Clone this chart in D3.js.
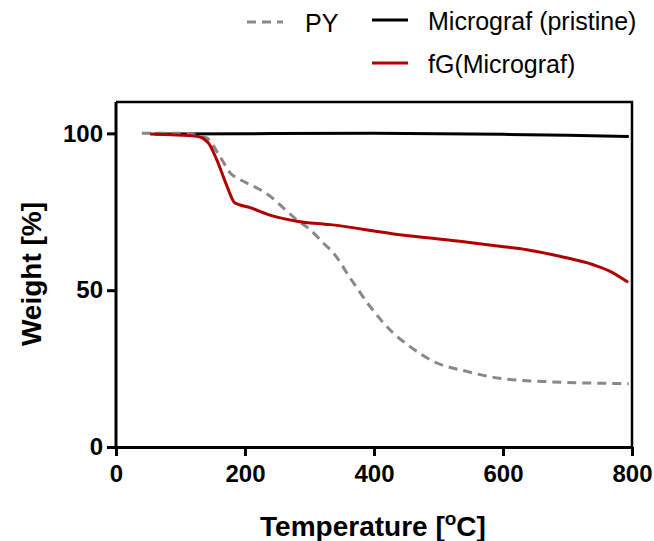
<!DOCTYPE html>
<html>
<head>
<meta charset="utf-8">
<script src="https://cdn.jsdelivr.net/npm/d3@7"></script>
<style>
  body { margin: 0; background: #fff; }
  svg text { font-family: "Liberation Sans", Arial, sans-serif; }
</style>
</head>
<body>
<div id="chart"></div>
<script>
// ===== DATA =====
const pyTemp    = [40, 100, 140, 160, 177, 192, 213, 239, 259, 280, 301, 321, 337, 363, 394, 430, 456, 492, 544, 595, 662, 795];
const pyWeight  = [100, 100, 98.6, 93, 87.4, 85.3, 83.2, 80, 76.3, 72.5, 69.3, 65.1, 61.9, 53.9, 44.8, 36.3, 32.0, 27.3, 24.1, 21.9, 20.9, 20.2];

const mgTemp    = [60, 200, 400, 500, 600, 700, 795];
const mgWeight  = [99.8, 99.9, 100, 99.9, 99.7, 99.4, 99.0];

const fgTemp    = [53, 125, 143, 156, 172, 184, 208, 244, 280, 332, 440, 533, 595, 637, 688, 740, 766, 794];
const fgWeight  = [99.8, 99.1, 97, 91.7, 83.2, 77.9, 76.3, 73.6, 72, 70.9, 67.7, 65.6, 64.0, 62.9, 60.8, 58.1, 56, 52.5];

const xTicks = [0, 200, 400, 600, 800];
const yTicks = [0, 50, 100];

const seriesNames = ["PY", "Micrograf (pristine)", "fG(Micrograf)"];

// ===== SIZE =====
const width = 654;
const height = 541;
const margin = { top: 102, right: 22, bottom: 94, left: 116 };
const innerW = width - margin.left - margin.right;
const innerH = height - margin.top - margin.bottom;

const svg = d3.select("#chart")
  .append("svg")
  .attr("width", width)
  .attr("height", height);

const g = svg.append("g")
  .attr("transform", `translate(${margin.left},${margin.top})`);

const x = d3.scaleLinear().domain([0, 800]).range([0, innerW]);
const y = d3.scaleLinear().domain([0, 110]).range([innerH, 0]);

const line = d3.line()
  .x(d => x(d[0]))
  .y(d => y(d[1]))
  .curve(d3.curveMonotoneX);

const series = [
  { name: seriesNames[0], pts: d3.zip(pyTemp, pyWeight), color: "#888888", dash: "9,6" },
  { name: seriesNames[1], pts: d3.zip(mgTemp, mgWeight), color: "#000000", dash: null },
  { name: seriesNames[2], pts: d3.zip(fgTemp, fgWeight), color: "#b00000", dash: null }
];

// frame top / right
g.append("path")
  .attr("d", `M0,0H${innerW}V${innerH}`)
  .attr("fill", "none")
  .attr("stroke", "#000")
  .attr("stroke-width", 2.5);

// lines: black under, gray, red on top
["Micrograf (pristine)", "PY", "fG(Micrograf)"].forEach(n => {
  const s = series.find(d => d.name === n);
  g.append("path")
    .datum(s.pts)
    .attr("d", line)
    .attr("fill", "none")
    .attr("stroke", s.color)
    .attr("stroke-width", 3)
    .attr("stroke-dasharray", s.dash);
});

// axes
const xAxis = g.append("g")
  .attr("transform", `translate(0,${innerH})`)
  .call(d3.axisBottom(x).tickValues(xTicks).tickSize(9).tickSizeOuter(0).tickPadding(9));

const yAxis = g.append("g")
  .call(d3.axisLeft(y).tickValues(yTicks).tickSize(9).tickSizeOuter(0).tickPadding(4));

[xAxis, yAxis].forEach(a => {
  a.select(".domain").attr("stroke-width", 3);
  a.selectAll(".tick line").attr("stroke-width", 3);
  a.selectAll(".tick text")
    .style("font-family", "'Liberation Sans', Arial, sans-serif")
    .style("font-size", "24px")
    .style("font-weight", "bold")
    .attr("fill", "#000");
});
yAxis.select(".domain").attr("d", `M0,0V${innerH}`);

// axis titles
const xt = svg.append("text")
  .attr("x", margin.left + innerW / 2 - 1)
  .attr("y", 536)
  .attr("text-anchor", "middle")
  .style("font-size", "28px")
  .style("font-weight", "bold");
xt.append("tspan").text("Temperature [");
xt.append("tspan").attr("dy", -11).style("font-size", "19px").text("o");
xt.append("tspan").attr("dy", 11).text("C]");

svg.append("text")
  .attr("transform", "rotate(-90)")
  .attr("x", -274)
  .attr("y", 41)
  .attr("text-anchor", "middle")
  .style("font-size", "28px")
  .style("font-weight", "bold")
  .text("Weight [%]");

// legend
const legendItems = [
  { s: series[0], lx: 247, ly: 22, tx: 305 },
  { s: series[1], lx: 372, ly: 20, tx: 428 },
  { s: series[2], lx: 372, ly: 63, tx: 428 }
];

const legend = svg.selectAll("g.legend")
  .data(legendItems)
  .join("g")
  .attr("class", "legend");

legend.append("line")
  .attr("x1", d => d.lx)
  .attr("x2", d => d.lx + 36)
  .attr("y1", d => d.ly)
  .attr("y2", d => d.ly)
  .attr("stroke", d => d.s.color)
  .attr("stroke-width", 3)
  .attr("stroke-dasharray", d => d.s.dash);

legend.append("text")
  .attr("x", d => d.tx)
  .attr("y", d => d.ly + 9.5)
  .style("font-size", "25px")
  .text(d => d.s.name);
</script>
</body>
</html>
